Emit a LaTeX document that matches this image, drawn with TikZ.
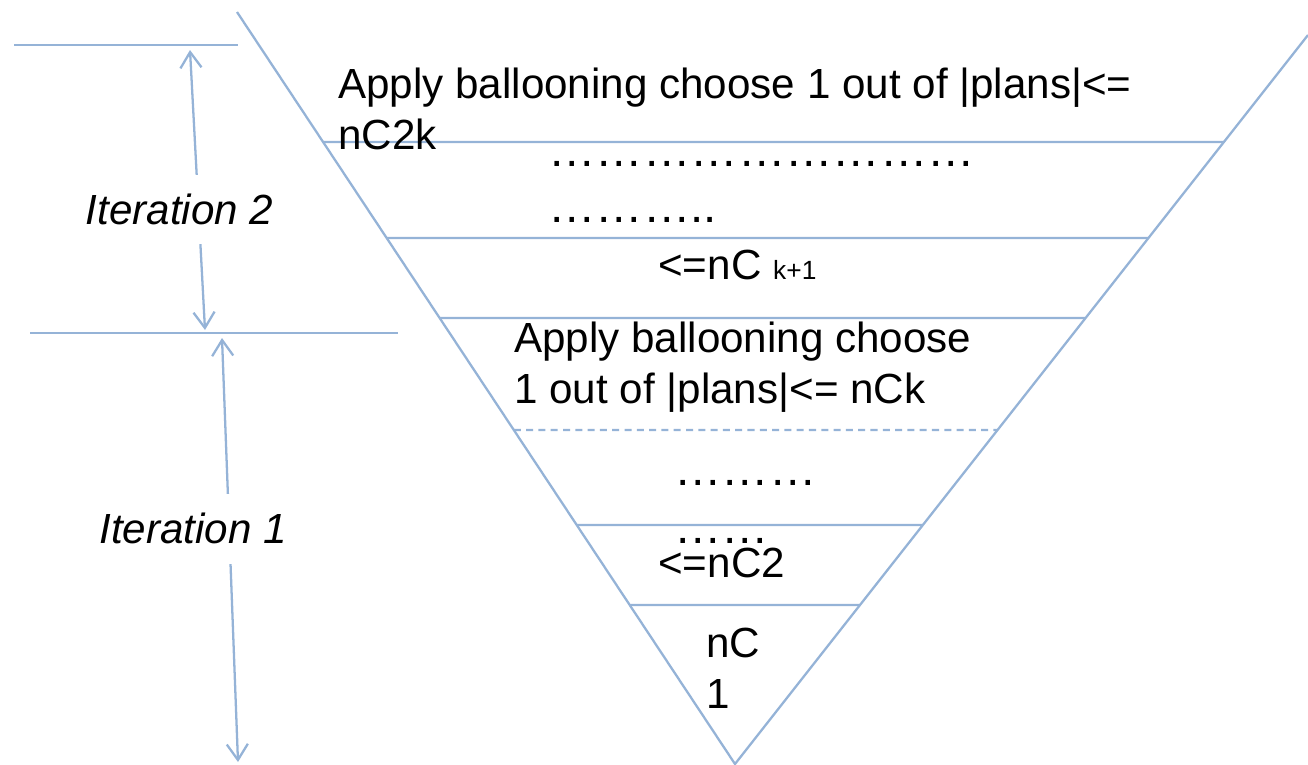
\documentclass[tikz,border=0pt]{standalone}
\usepackage{fontspec}
\setmainfont{Liberation Sans}
\usetikzlibrary{arrows.meta,calc}
\definecolor{funnel}{HTML}{95B3D7}

\begin{document}
\begin{tikzpicture}[x=0.02cm,y=-0.02cm,
  rule/.style={draw=funnel,line width=1.3pt},
  span/.style={rule,{Straight Barb[length=9pt,width=12pt]}-{Straight Barb[length=9pt,width=12pt]}},
  txt/.style={anchor=base west,inner sep=0pt,align=left,font=\fontsize{24}{28.5}\selectfont},
  dots/.style={anchor=base west,inner sep=0pt,font=\fontsize{27}{30}\selectfont},
  iter/.style={fill=white,inner xsep=0pt,inner ysep=11pt,font=\fontsize{24}{28}\selectfont\itshape}]
  \useasboundingbox (0,0) rectangle (1308,764);
  % funnel
  \coordinate (tl) at (237,12);
  \coordinate (tr) at (1308,35);
  \coordinate (apex) at (735,764);
  \draw[rule] (tl) -- (apex) -- (tr);
  \foreach \y in {142,238,318,525,605}
    \draw[rule] ($(tl)!{(\y-12)/752}!(apex)$) -- ($(tr)!{(\y-35)/729}!(apex)$);
  \draw[rule,dash pattern=on 4pt off 3pt] ($(tl)!{(430-12)/752}!(apex)$) -- ($(tr)!{(430-35)/729}!(apex)$);
  % iterations
  \draw[rule] (14,45) -- (238,45);
  \draw[rule] (30,333) -- (398,333);
  \draw[span] (190,50) -- node[iter,pos=0.57,xshift=-0.38cm] (it2) {Iteration 2} (205,330);
  \draw[span] (222,338) -- node[iter,pos=0.45,xshift=-0.72cm] (it1) {Iteration 1} (238,762);
  % levels (base = last line)
  \node[txt] (top) at (338,149) {Apply ballooning choose 1 out of |plans|<=\\nC2k};
  \node[dots] (d1) at (548,166) {………………………};
  \node[dots] (d2) at (548,222) {………..};
  \node[txt] (kp1) at (658,279) {<=nC {\fontsize{15}{18}\selectfont k+1}};
  \node[txt] (mid) at (514,403) {Apply ballooning choose\\1 out of |plans|<= nCk};
  \node[dots] (d3) at (674,485) {………};
  \node[dots] (d4) at (674,543) {……};
  \node[txt] (c2) at (658,577) {<=nC2};
  \node[txt] (c1) at (706,708) {nC\\1};
\end{tikzpicture}
\end{document}
